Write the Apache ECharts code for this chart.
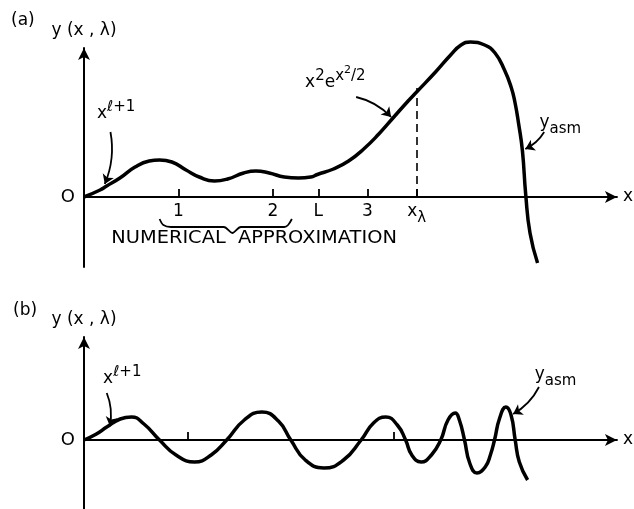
<!DOCTYPE html>
<html>
<head>
<meta charset="utf-8">
<script src="https://cdn.jsdelivr.net/npm/echarts@6/dist/echarts.min.js"></script>
<style>
  html, body { margin: 0; padding: 0; background: #fff; }
  #chart { width: 634px; height: 509px; }
</style>
</head>
<body>
<div id="chart"></div>
<script>
// panel (a): curve (x in units of the tick spacing)
const curveA_x = [0, 0.17, 0.24, 0.38, 0.54, 0.69, 0.80, 0.93, 1.08, 1.22, 1.38, 1.52, 1.69, 1.82, 1.96, 2.12, 2.27, 2.40, 2.47, 2.64, 2.80, 2.96, 3.12, 3.27, 3.43, 3.52, 3.72, 3.88, 3.99, 4.09, 4.24, 4.35, 4.45, 4.52, 4.56, 4.60, 4.64, 4.675, 4.72, 4.80]
const curveA_y = [0, 0.14, 0.22, 0.38, 0.60, 0.72, 0.74, 0.70, 0.54, 0.40, 0.32, 0.36, 0.48, 0.52, 0.48, 0.40, 0.38, 0.40, 0.45, 0.56, 0.72, 0.96, 1.26, 1.58, 1.92, 2.10, 2.50, 2.84, 3.04, 3.10, 3.04, 2.88, 2.54, 2.20, 1.90, 1.46, 0.92, 0.04, -0.72, -1.32]

// panel (b)
const curveB_x = [0, 0.12, 0.22, 0.35, 0.46, 0.58, 0.73, 0.89, 1.07, 1.23, 1.38, 1.55, 1.72, 1.88, 2.0, 2.14, 2.32, 2.51, 2.68, 2.80, 2.92, 3.03, 3.11, 3.17, 3.26, 3.36, 3.45, 3.52, 3.59, 3.63, 3.68, 3.73, 3.80, 3.88, 3.93, 3.97, 4.02, 4.08, 4.13, 4.17, 4.21, 4.29]
const curveB_y = [0, 0.12, 0.26, 0.42, 0.46, 0.32, 0, -0.30, -0.44, -0.30, 0, 0.40, 0.56, 0.38, 0, -0.40, -0.56, -0.40, 0, 0.34, 0.46, 0.30, 0, -0.30, -0.44, -0.30, 0, 0.40, 0.54, 0.40, 0, -0.46, -0.66, -0.54, -0.30, 0, 0.44, 0.66, 0.50, 0, -0.44, -0.80]

// tick positions and labels
const ticksA = [1, 2, 2.48, 3, 3.52]
const tickLabelsA = ['1', '2', 'L', '3', '{n|x}{sub|λ}']
const tickLabelY = -0.30
const ticksB = [1, 3]
const xLambda = 3.52
const xLambdaTop = 2.18

// brace under "numerical approximation"
const brace_x = [0.80, 0.84, 0.92, 1.48, 1.57, 1.66, 2.12, 2.16, 2.20]
const brace_y = [-0.44, -0.56, -0.60, -0.60, -0.72, -0.60, -0.60, -0.56, -0.44]
const braceText = 'NUMERICAL  APPROXIMATION'
const braceTextAt = [1.80, -0.83]

// annotation arrows [from, to]
const arrowsA = [
  [[0.28, 1.30], [0.22, 0.26]],
  [[2.88, 2.00], [3.25, 1.60]],
  [[4.87, 1.30], [4.67, 0.96]]
]
const arrowsB = [
  [[0.22, 0.94], [0.25, 0.28]],
  [[4.40, 1.06], [4.15, 0.52]]
]

const zip = (xs, ys) => xs.map((x, i) => [x, ys[i]])

const FONT = 'DejaVu Sans'
const INK = '#000'
const rich = {
  n: { fontSize: 17, fontFamily: FONT, fill: INK },
  sup: { fontSize: 15, fontFamily: FONT, fill: INK, padding: [0, 0, 13, 0] },
  sup2: { fontSize: 11, fontFamily: FONT, fill: INK, padding: [0, 0, 26, 0] },
  sub: { fontSize: 15, fontFamily: FONT, fill: INK, padding: [12, 0, 0, 0] }
}

const wrap = (s) => (s.startsWith('{') ? s : '{n|' + s + '}')

// text placed in data units of each panel
const textLabels = [
  { grid: 0, at: [0.34, 1.66], text: '{n|x}{sup|ℓ+1}' },
  { grid: 0, at: [2.66, 2.28], text: '{n|x}{sup|2}{n|e}{sup|x}{sup2|2}{sup|/2}' },
  { grid: 0, at: [5.04, 1.48], text: '{n|y}{sub|asm}' },
  { grid: 1, at: [0.37, 1.22], text: '{n|x}{sup|ℓ+1}' },
  { grid: 1, at: [4.56, 1.30], text: '{n|y}{sub|asm}' }
].concat(ticksA.map((t, i) => ({ grid: 0, at: [t, tickLabelY], text: wrap(tickLabelsA[i]) })))

const chart = echarts.init(document.getElementById('chart'))

const axisLine = { lineStyle: { color: INK, width: 2 }, symbol: ['none', 'arrow'], symbolSize: [9, 12] }
const txt = { fontSize: 17, fontFamily: FONT, fontWeight: 'normal', color: INK }

const xAxisBase = (idx, max, ticks) => ({
  type: 'value',
  gridIndex: idx,
  min: 0,
  max: max,
  name: 'x',
  nameGap: 6,
  nameTextStyle: Object.assign({ verticalAlign: 'middle' }, txt),
  axisLine: axisLine,
  splitLine: { show: false },
  axisTick: { show: true, inside: true, length: 8, customValues: ticks, lineStyle: { color: INK, width: 1.8 } },
  axisLabel: { show: false }
})

const yAxisBase = (idx, min, max) => ({
  type: 'value',
  gridIndex: idx,
  min: min,
  max: max,
  name: 'y (x , λ)',
  nameLocation: 'end',
  nameGap: 9,
  nameTextStyle: txt,
  axisLine: axisLine,
  splitLine: { show: false },
  axisTick: { show: false },
  axisLabel: Object.assign({ customValues: [0], margin: 9, formatter: () => 'O' }, txt, { fontSize: 18 })
})

const curveSeries = (idx, data) => ({
  type: 'line',
  xAxisIndex: idx,
  yAxisIndex: idx,
  data: data,
  smooth: 0.5,
  showSymbol: false,
  clip: false,
  lineStyle: { color: INK, width: 3.5 },
  z: 5
})

const arrowSeries = (idx, arrows) => ({
  type: 'lines',
  coordinateSystem: 'cartesian2d',
  xAxisIndex: idx,
  yAxisIndex: idx,
  symbol: ['none', 'arrow'],
  symbolSize: 9,
  lineStyle: { color: INK, width: 1.8, curveness: 0.15, opacity: 1 },
  data: arrows.map(a => ({ coords: a })),
  z: 6
})

const option = {
  animation: false,
  backgroundColor: '#fff',
  title: [
    { text: '(a)', left: 6, top: 7, textStyle: txt },
    { text: '(b)', left: 8, top: 297, textStyle: txt }
  ],
  grid: [
    { left: 84, right: 14, top: 48, height: 219 },
    { left: 84, right: 14, top: 337, height: 172 }
  ],
  xAxis: [
    xAxisBase(0, 5.64, ticksA),
    xAxisBase(1, 5.154, ticksB)
  ],
  yAxis: [
    yAxisBase(0, -1.4, 2.98),
    yAxisBase(1, -1.38, 2.06)
  ],
  series: [
    Object.assign(curveSeries(0, zip(curveA_x, curveA_y)), {
      markLine: {
        silent: true,
        symbol: 'none',
        label: { show: false },
        lineStyle: { color: INK, width: 1.6, type: [8, 5] },
        data: [[{ coord: [xLambda, 0] }, { coord: [xLambda, xLambdaTop] }]]
      }
    }),
    curveSeries(1, zip(curveB_x, curveB_y)),
    {
      type: 'line',
      xAxisIndex: 0,
      yAxisIndex: 0,
      data: zip(brace_x, brace_y),
      smooth: 0.3,
      showSymbol: false,
      clip: false,
      lineStyle: { color: INK, width: 1.8 }
    },
    arrowSeries(0, arrowsA),
    arrowSeries(1, arrowsB)
  ]
}

chart.setOption(option)

// annotations, positioned through each panel's axes
const toPx = (g, p) => chart.convertToPixel({ xAxisIndex: g, yAxisIndex: g }, p)
const graphics = textLabels.map(t => {
  const p = toPx(t.grid, t.at)
  return {
    type: 'text', x: p[0], y: p[1], silent: true,
    style: { text: t.text, rich: rich, align: 'center', verticalAlign: 'middle', fill: INK }
  }
})
const bp = toPx(0, braceTextAt)
graphics.push({
  type: 'text', x: bp[0], y: bp[1], scaleX: 1.14, silent: true,
  style: { text: braceText, fontSize: 17, fontFamily: FONT, fill: INK, align: 'center', verticalAlign: 'middle' }
})
chart.setOption({ graphic: graphics })
</script>
</body>
</html>
